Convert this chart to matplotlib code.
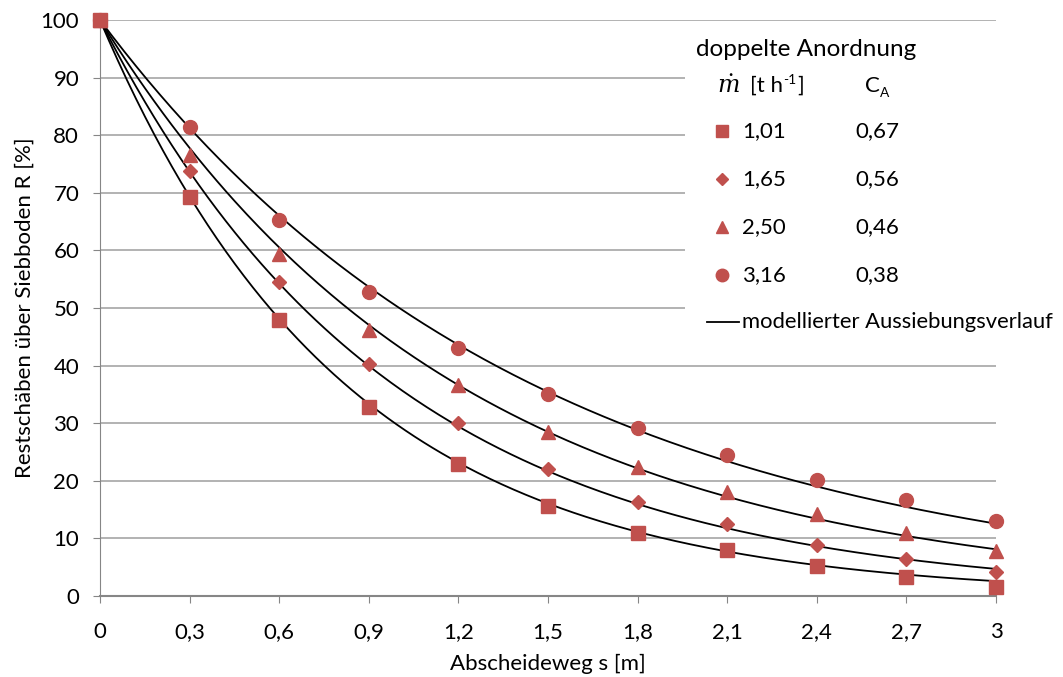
import numpy as np
import matplotlib
matplotlib.use("Agg")
import matplotlib.pyplot as plt
from matplotlib.lines import Line2D
from matplotlib.patches import Rectangle

plt.rcParams['font.family'] = ['Lato', 'DejaVu Sans']

s = [0, 0.3, 0.6, 0.9, 1.2, 1.5, 1.8, 2.1, 2.4, 2.7, 3.0]
x_ticklabels = ["0", "0,3", "0,6", "0,9", "1,2", "1,5", "1,8", "2,1", "2,4", "2,7", "3"]
mdot_labels = ["1,01", "1,65", "2,50", "3,16"]
ca_labels = ["0,67", "0,56", "0,46", "0,38"]
c_a = [0.67, 0.56, 0.46, 0.38]
k_factor = 1.82  # model rate factor: R = 100*exp(-k_factor*C_A*s)

r_square = [100, 69.2, 48.0, 32.8, 23.0, 15.6, 10.9, 7.9, 5.2, 3.3, 1.5]
r_diamond = [100, 73.8, 54.6, 40.2, 30.1, 22.1, 16.4, 12.5, 8.9, 6.4, 4.1]
r_triangle = [100, 76.5, 59.3, 46.2, 36.6, 28.5, 22.4, 18.1, 14.2, 11.0, 7.8]
r_circle = [100, 81.4, 65.3, 52.8, 43.0, 35.1, 29.1, 24.4, 20.1, 16.7, 13.1]

series = [r_square, r_diamond, r_triangle, r_circle]
markers = ['s', 'D', '^', 'o']
msizes = [10, 7, 9.5, 10]
red = '#C0504D'
grid_c = '#A6A6A6'

fig = plt.figure(figsize=(10.63, 6.77), dpi=100)
ax = fig.add_axes([100/1063, 81/677, 896/1063, 576/677])

ss = np.linspace(0, 3, 300)
for ca in c_a:
    ax.plot(ss, 100*np.exp(-k_factor*ca*ss), color='black', lw=1.3, zorder=3)

for i in [3, 2, 1, 0]:
    ax.plot(s, series[i], linestyle='none', marker=markers[i], ms=msizes[i],
            color=red, mec=red, zorder=5 + (3 - i), clip_on=False)

ax.set_xlim(0, 3)
ax.set_ylim(0, 100)
ax.set_xticks(s)
ax.set_xticklabels(x_ticklabels)
ax.set_yticks(range(0, 101, 10))
ax.grid(axis='y', color=grid_c, lw=1.2)
ax.set_axisbelow(True)
for sp in ['top', 'right']:
    ax.spines[sp].set_visible(False)
ax.spines['left'].set_color('#868686')
ax.spines['bottom'].set_color('#868686')
ax.spines['bottom'].set_linewidth(1.5)
ax.tick_params(axis='both', labelsize=16, colors='#868686', labelcolor='black', length=5)
ax.tick_params(axis='x', pad=14)
ax.tick_params(axis='y', pad=10)
ax.set_xlabel("Abscheideweg s [m]", fontsize=16, labelpad=8)
ax.set_ylabel("Restschäben über Siebboden R [%]", fontsize=16, labelpad=4)

# custom legend
fig.patches.append(Rectangle((685/1063, 1 - 340/677), 378/1063, 310/677,
                             transform=fig.transFigure, facecolor='white',
                             edgecolor='none', zorder=10))

def fx(px):
    return px / 1063

def fy(py):
    return 1 - py / 677

fs = 16
fig.text(fx(696), fy(49), "doppelte Anordnung", fontsize=17.5, va='center', ha='left', zorder=11)
fig.text(fx(717), fy(86), r"$\dot{m}$", fontsize=fs + 1, va='center', ha='left', zorder=11,
         math_fontfamily='dejavuserif')

renderer = fig.canvas.get_renderer()
t1 = fig.text(fx(750), fy(86), "[t h", fontsize=fs, va='center', ha='left', zorder=11)
bb = t1.get_window_extent(renderer)
t2 = fig.text(bb.x1 / 1063 + 0.5/1063, fy(80), "-1", fontsize=fs * 0.62, va='center', ha='left', zorder=11)
bb2 = t2.get_window_extent(renderer)
fig.text(bb2.x1 / 1063 + 1/1063, fy(86), "]", fontsize=fs, va='center', ha='left', zorder=11)

tc = fig.text(fx(865), fy(86), "C", fontsize=fs, va='center', ha='left', zorder=11)
bbc = tc.get_window_extent(renderer)
fig.text(bbc.x1 / 1063, fy(93), "A", fontsize=fs * 0.62, va='center', ha='left', zorder=11)

rows_y = [131, 179, 227, 275]
leg_ms = [8, 6, 8.5, 9]
for i in range(4):
    fig.add_artist(Line2D([fx(722)], [fy(rows_y[i])], marker=markers[i], ms=leg_ms[i],
                          color=red, mec=red, linestyle='none', transform=fig.transFigure, zorder=12))
    fig.text(fx(742), fy(rows_y[i]), mdot_labels[i], fontsize=fs, va='center', ha='left', zorder=11)
    fig.text(fx(855), fy(rows_y[i]), ca_labels[i], fontsize=fs, va='center', ha='left', zorder=11)

fig.add_artist(Line2D([fx(707), fx(739)], [fy(322), fy(322)], color='black', lw=1.3,
                      transform=fig.transFigure, zorder=12))
fig.text(fx(742), fy(322), "modellierter Aussiebungsverlauf", fontsize=fs - 0.2, va='center',
         ha='left', zorder=11)

fig.savefig("out.png", dpi=100)
